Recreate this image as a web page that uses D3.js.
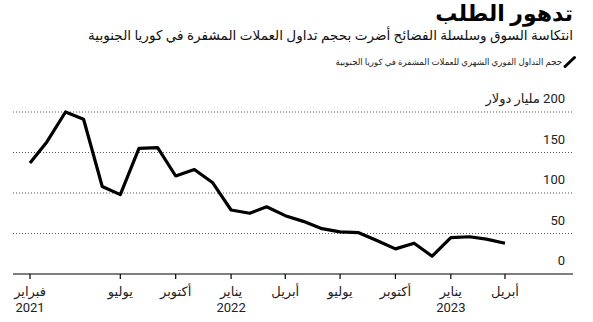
<!DOCTYPE html>
<html><head><meta charset="utf-8">
<script src="https://cdn.jsdelivr.net/npm/d3@7"></script>
<style>
body{margin:0;background:#fff}
svg{display:block;font-family:Roboto,"DejaVu Sans",sans-serif}
</style>
</head><body>
<svg id="c" width="593" height="322"></svg>
<script>
// ---- data ----
const months = ["2021-02","2021-03","2021-04","2021-05","2021-06","2021-07","2021-08","2021-09","2021-10","2021-11","2021-12",
  "2022-01","2022-02","2022-03","2022-04","2022-05","2022-06","2022-07","2022-08","2022-09","2022-10","2022-11","2022-12",
  "2023-01","2023-02","2023-03","2023-04"];
const values = [137,163,200,191,108,98,155,156,121,129,113,79,75,83,72,65,56,52,51,41,31,38,22,45,46,43,38];
const yTicks = [0,50,100,150,200];
const xTickDates = ["2021-02","2021-07","2021-10","2022-01","2022-04","2022-07","2022-10","2023-01","2023-04"];
const xTickMonths = ["فبراير","يوليو","أكتوبر","يناير","أبريل","يوليو","أكتوبر","يناير","أبريل"];
const xTickYears = ["2021","","","2022","","","","2023",""];
const title = "تدهور الطلب";
const subtitle = "انتكاسة السوق وسلسلة الفضائح أضرت بحجم تداول العملات المشفرة في كوريا الجنوبية";
const legendLabel = "حجم التداول الفوري الشهري للعملات المشفرة في كوريا الجنوبية";
const unit = "مليار دولار";

// ---- chart ----
const parse = d3.utcParse("%Y-%m");
const svg = d3.select("#c");
const x = d3.scaleUtc().domain([parse("2021-02"), parse("2023-04")]).range([30, 505]);
const y = d3.scaleLinear().domain([0, 200]).range([274, 112]);
const plotLeft = 13, plotRight = 573;

// titles
svg.append("text").attr("x", 573).attr("y", 21).attr("direction","rtl").attr("text-anchor","start")
  .attr("font-weight","bold").attr("font-size", 22).attr("fill","#000").text(title);
svg.append("text").attr("x", 573).attr("y", 40).attr("direction","rtl").attr("text-anchor","start")
  .attr("font-size", 13.6).attr("fill","#111").text(subtitle);
// legend
svg.append("line").attr("x1",565).attr("y1",66.5).attr("x2",574.5).attr("y2",57.5)
  .attr("stroke","#000").attr("stroke-width",3).attr("stroke-linecap","round");
svg.append("text").attr("x", 562).attr("y", 65).attr("direction","rtl").attr("text-anchor","start")
  .attr("font-size", 8.6).attr("fill","#222").text(legendLabel);

// gridlines
svg.append("g").selectAll("line").data(yTicks.filter(d => d > 0)).join("line")
  .attr("x1", plotLeft).attr("x2", plotRight)
  .attr("y1", d => y(d)).attr("y2", d => y(d))
  .attr("stroke", "#555").attr("stroke-width", 1).attr("stroke-dasharray", "1,2");

// y labels
svg.append("g").selectAll("text").data(yTicks).join("text")
  .attr("x", 565).attr("y", d => y(d) - 9)
  .attr("direction","rtl").attr("text-anchor","start")
  .attr("font-size", 13).attr("fill","#222")
  .text(d => d === 200 ? d + " " + unit : d);

// x axis
svg.append("line").attr("x1", plotLeft).attr("x2", plotRight).attr("y1", y(0)).attr("y2", y(0))
  .attr("stroke","#000").attr("stroke-width",1.2);
const tg = svg.append("g").selectAll("g").data(xTickDates).join("g")
  .attr("transform", d => `translate(${x(parse(d))},0)`);
tg.append("line").attr("y1", y(0)).attr("y2", y(0) + 5).attr("stroke","#000").attr("stroke-width",1.2);
tg.append("text").attr("y", 296).attr("text-anchor","middle").attr("font-size",13).attr("fill","#222")
  .text((d,i) => xTickMonths[i]);
tg.append("text").attr("y", 312).attr("text-anchor","middle").attr("font-size",13).attr("fill","#222")
  .text((d,i) => xTickYears[i]);

// line
const line = d3.line().x((d,i) => x(parse(months[i]))).y(d => y(d));
svg.append("path").datum(values).attr("d", line)
  .attr("fill","none").attr("stroke","#000").attr("stroke-width",3.2).attr("stroke-linejoin","round");
</script>
</body></html>
